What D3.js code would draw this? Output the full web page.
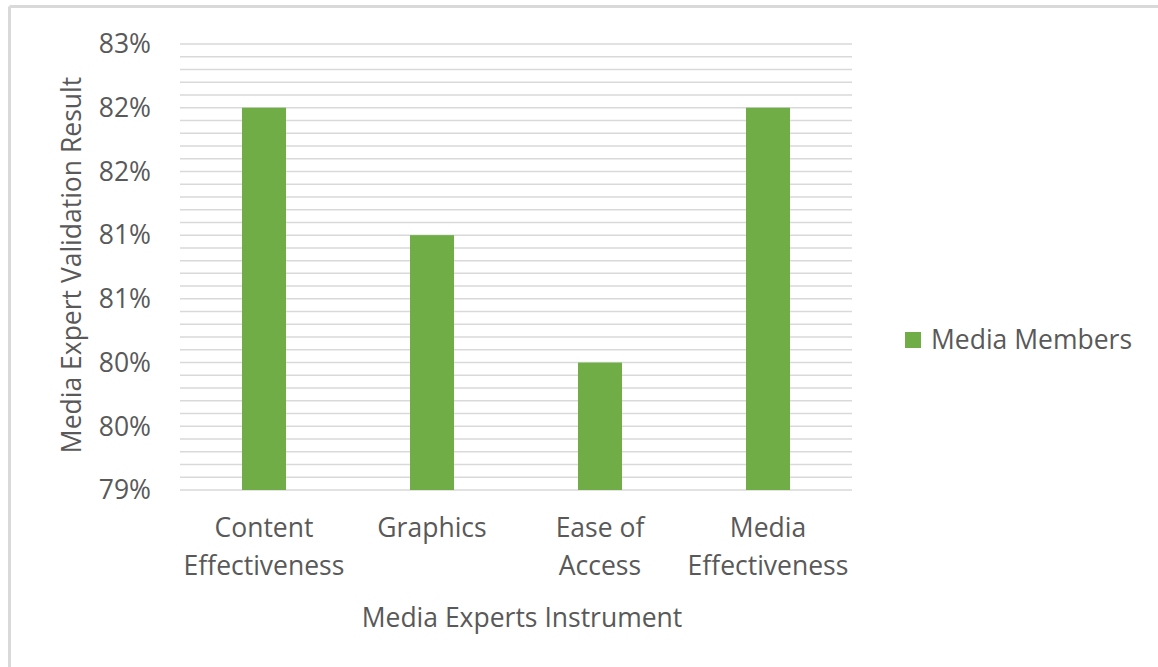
<!DOCTYPE html>
<html>
<head>
<meta charset="utf-8">
<script src="https://cdn.jsdelivr.net/npm/d3@7"></script>
<style>
  body { margin: 0; background: #fff; }
  svg text { font-family: "Open Sans", "Noto Sans", sans-serif; fill: #595959; }
</style>
</head>
<body>
<svg id="chart" width="1158" height="667"></svg>
<script>
// data
var categories = [["Content", "Effectiveness"], ["Graphics"], ["Ease of", "Access"], ["Media", "Effectiveness"]];
var values = [0.82, 0.81, 0.80, 0.82];
var seriesName = "Media Members";
var yTicks = [0.79, 0.795, 0.80, 0.805, 0.81, 0.815, 0.82, 0.825];
var yTickLabels = ["79%", "80%", "80%", "81%", "81%", "82%", "82%", "83%"];
var minorStep = 0.001;

var margin = {left: 180, right: 306, top: 44, bottom: 177};
var width = 1158, height = 667;
var fs = "26.5px";

var svg = d3.select("#chart");

// outer frame (only top / left visible in the crop)
svg.append("line").attr("x1", 9.5).attr("x2", width).attr("y1", 6.5).attr("y2", 6.5)
    .attr("stroke", "#d9d9d9").attr("stroke-width", 3);
svg.append("line").attr("x1", 9.5).attr("x2", 9.5).attr("y1", 6.5).attr("y2", height)
    .attr("stroke", "#d9d9d9").attr("stroke-width", 3);

var x = d3.scaleBand()
    .domain(d3.range(categories.length))
    .range([margin.left, width - margin.right])
    .paddingInner(0.738).paddingOuter(0.369);

var y = d3.scaleLinear()
    .domain([0.79, 0.825])
    .range([height - margin.bottom, margin.top]);

// gridlines: every 0.1%
var grid = d3.range(0, 36).map(i => 0.79 + i * minorStep);
svg.append("g").selectAll("line")
    .data(grid)
    .join("line")
    .attr("x1", margin.left).attr("x2", width - margin.right)
    .attr("y1", d => y(d)).attr("y2", d => y(d))
    .attr("stroke", "#d9d9d9")
    .attr("stroke-width", 1.5);

// y axis labels
svg.append("g").selectAll("text")
    .data(yTicks)
    .join("text")
    .attr("x", 151)
    .attr("y", d => y(d))
    .attr("dy", "0.35em")
    .attr("text-anchor", "end")
    .style("font-size", fs)
    .text((d, i) => yTickLabels[i]);

// bars
svg.append("g").selectAll("rect")
    .data(values)
    .join("rect")
    .attr("x", (d, i) => x(i))
    .attr("width", x.bandwidth())
    .attr("y", d => y(d))
    .attr("height", d => y(0.79) - y(d))
    .attr("fill", "#70ad47");

// category labels
var cat = svg.append("g").selectAll("text")
    .data(categories)
    .join("text")
    .attr("x", (d, i) => x(i) + x.bandwidth() / 2)
    .attr("y", 537)
    .attr("text-anchor", "middle")
    .style("font-size", fs);
cat.selectAll("tspan")
    .data(d => d)
    .join("tspan")
    .attr("x", function() { return this.parentNode.getAttribute("x"); })
    .attr("dy", (d, i) => i === 0 ? 0 : 38)
    .text(d => d);

// axis titles
svg.append("text")
    .attr("x", 522).attr("y", 627)
    .attr("text-anchor", "middle")
    .style("font-size", fs)
    .text("Media Experts Instrument");

svg.append("text")
    .attr("transform", "translate(81," + 265 + ") rotate(-90)")
    .attr("text-anchor", "middle")
    .style("font-size", fs)
    .text("Media Expert Validation Result");

// legend
var lg = svg.append("g").attr("transform", "translate(905,332)");
lg.append("rect").attr("width", 16).attr("height", 16).attr("fill", "#70ad47");
lg.append("text").attr("x", 26).attr("y", 8).attr("dy", "0.35em")
    .style("font-size", fs).text(seriesName);
</script>
</body>
</html>
